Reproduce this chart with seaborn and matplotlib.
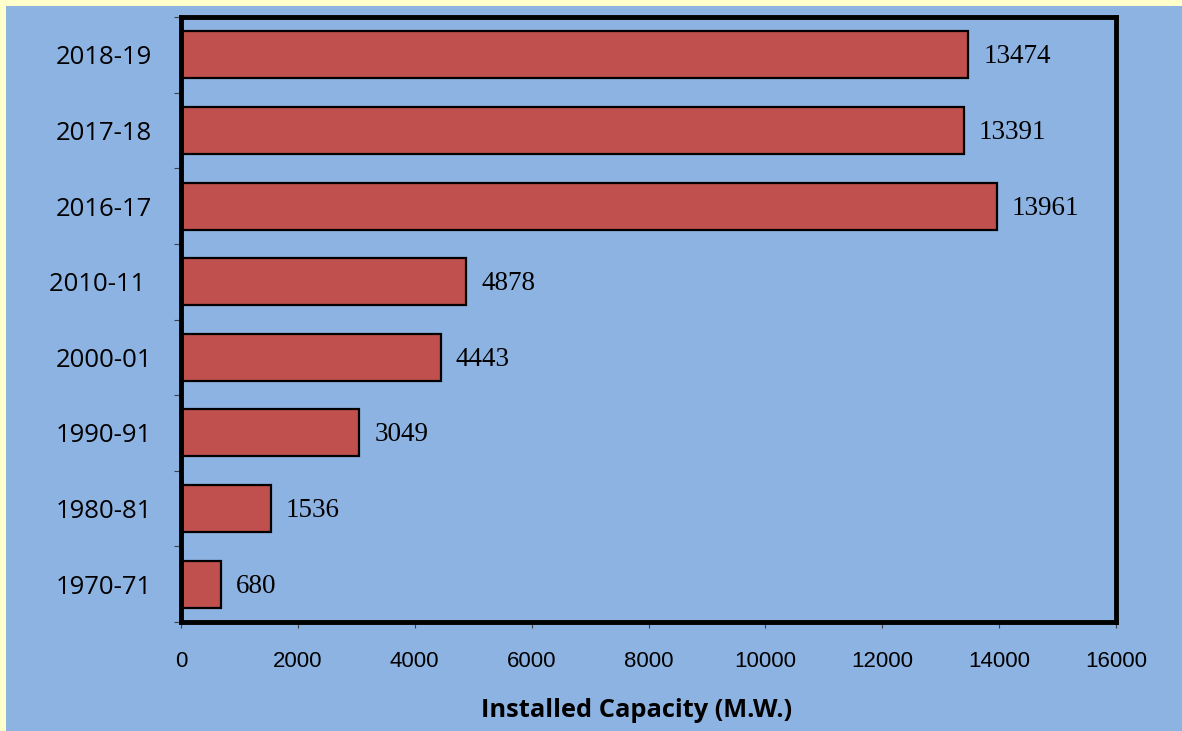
import pandas as pd
import matplotlib.pyplot as plt
import seaborn as sns
from matplotlib.patches import Rectangle
from matplotlib.ticker import FixedLocator

periods = ['2018-19', '2017-18', '2016-17', '2010-11 ', '2000-01', '1990-91', '1980-81', '1970-71']
capacity = [13474, 13391, 13961, 4878, 4443, 3049, 1536, 680]
x_ticks = [0, 2000, 4000, 6000, 8000, 10000, 12000, 14000, 16000]

blue = '#8DB3E2'
yellow = '#FFFFCC'
bar_red = '#C0504D'

df = pd.DataFrame({'period': periods, 'capacity': capacity})

sns.set_style('white')
plt.rcParams['font.family'] = ['Open Sans', 'DejaVu Sans']
plt.rcParams['text.color'] = 'black'
plt.rcParams['axes.labelcolor'] = 'black'

fig = plt.figure(figsize=(11.82, 7.31), dpi=100)
fig.patch.set_facecolor(yellow)
# blue panel, thin yellow strip left and top
fig.add_artist(Rectangle((6 / 1182, 0), 1, 1 - 6 / 731, transform=fig.transFigure,
                         facecolor=blue, edgecolor='none', zorder=-5))

ax = fig.add_axes([181 / 1182, 1 - 622 / 731, 935 / 1182, 605 / 731])
ax.set_facecolor(blue)

sns.barplot(data=df, x='capacity', y='period', orient='h', color=bar_red,
            edgecolor='black', linewidth=1.6, width=0.62, saturation=1, ax=ax)

for bar, val in zip(ax.patches, capacity):
    ax.annotate(str(val), (bar.get_width(), bar.get_y() + bar.get_height() / 2),
                xytext=(15, -2), textcoords='offset pixels', va='center', ha='left',
                fontsize=19.5, family='Liberation Serif', color='black')

ax.set_xlim(0, 16000)
ax.set_ylim(len(periods) - 0.5, -0.5)
ax.set_xticks(x_ticks)
ax.set_xticklabels([str(t) for t in x_ticks], family='Liberation Sans', fontsize=16)
ax.tick_params(axis='x', length=4, width=0.8, color='#404040', pad=17, direction='out',
               bottom=True, labelcolor='black')
ax.tick_params(axis='y', which='major', length=0, pad=21, labelsize=18.5, labelcolor='black')
ax.yaxis.set_minor_locator(FixedLocator([i - 0.5 for i in range(len(periods) + 1)]))
ax.tick_params(axis='y', which='minor', length=5, width=0.8, color='#404040', left=True)

ax.set_ylabel('')
ax.set_xlabel('Installed Capacity (M.W.)', fontsize=18.3, fontweight='bold', color='black')
ax.xaxis.set_label_coords(0.4877, -0.1256)

for s in ax.spines.values():
    s.set_visible(True)
    s.set_color('black')
    s.set_linewidth(3.5)

fig.savefig('out.png', dpi=100, facecolor=fig.get_facecolor())
